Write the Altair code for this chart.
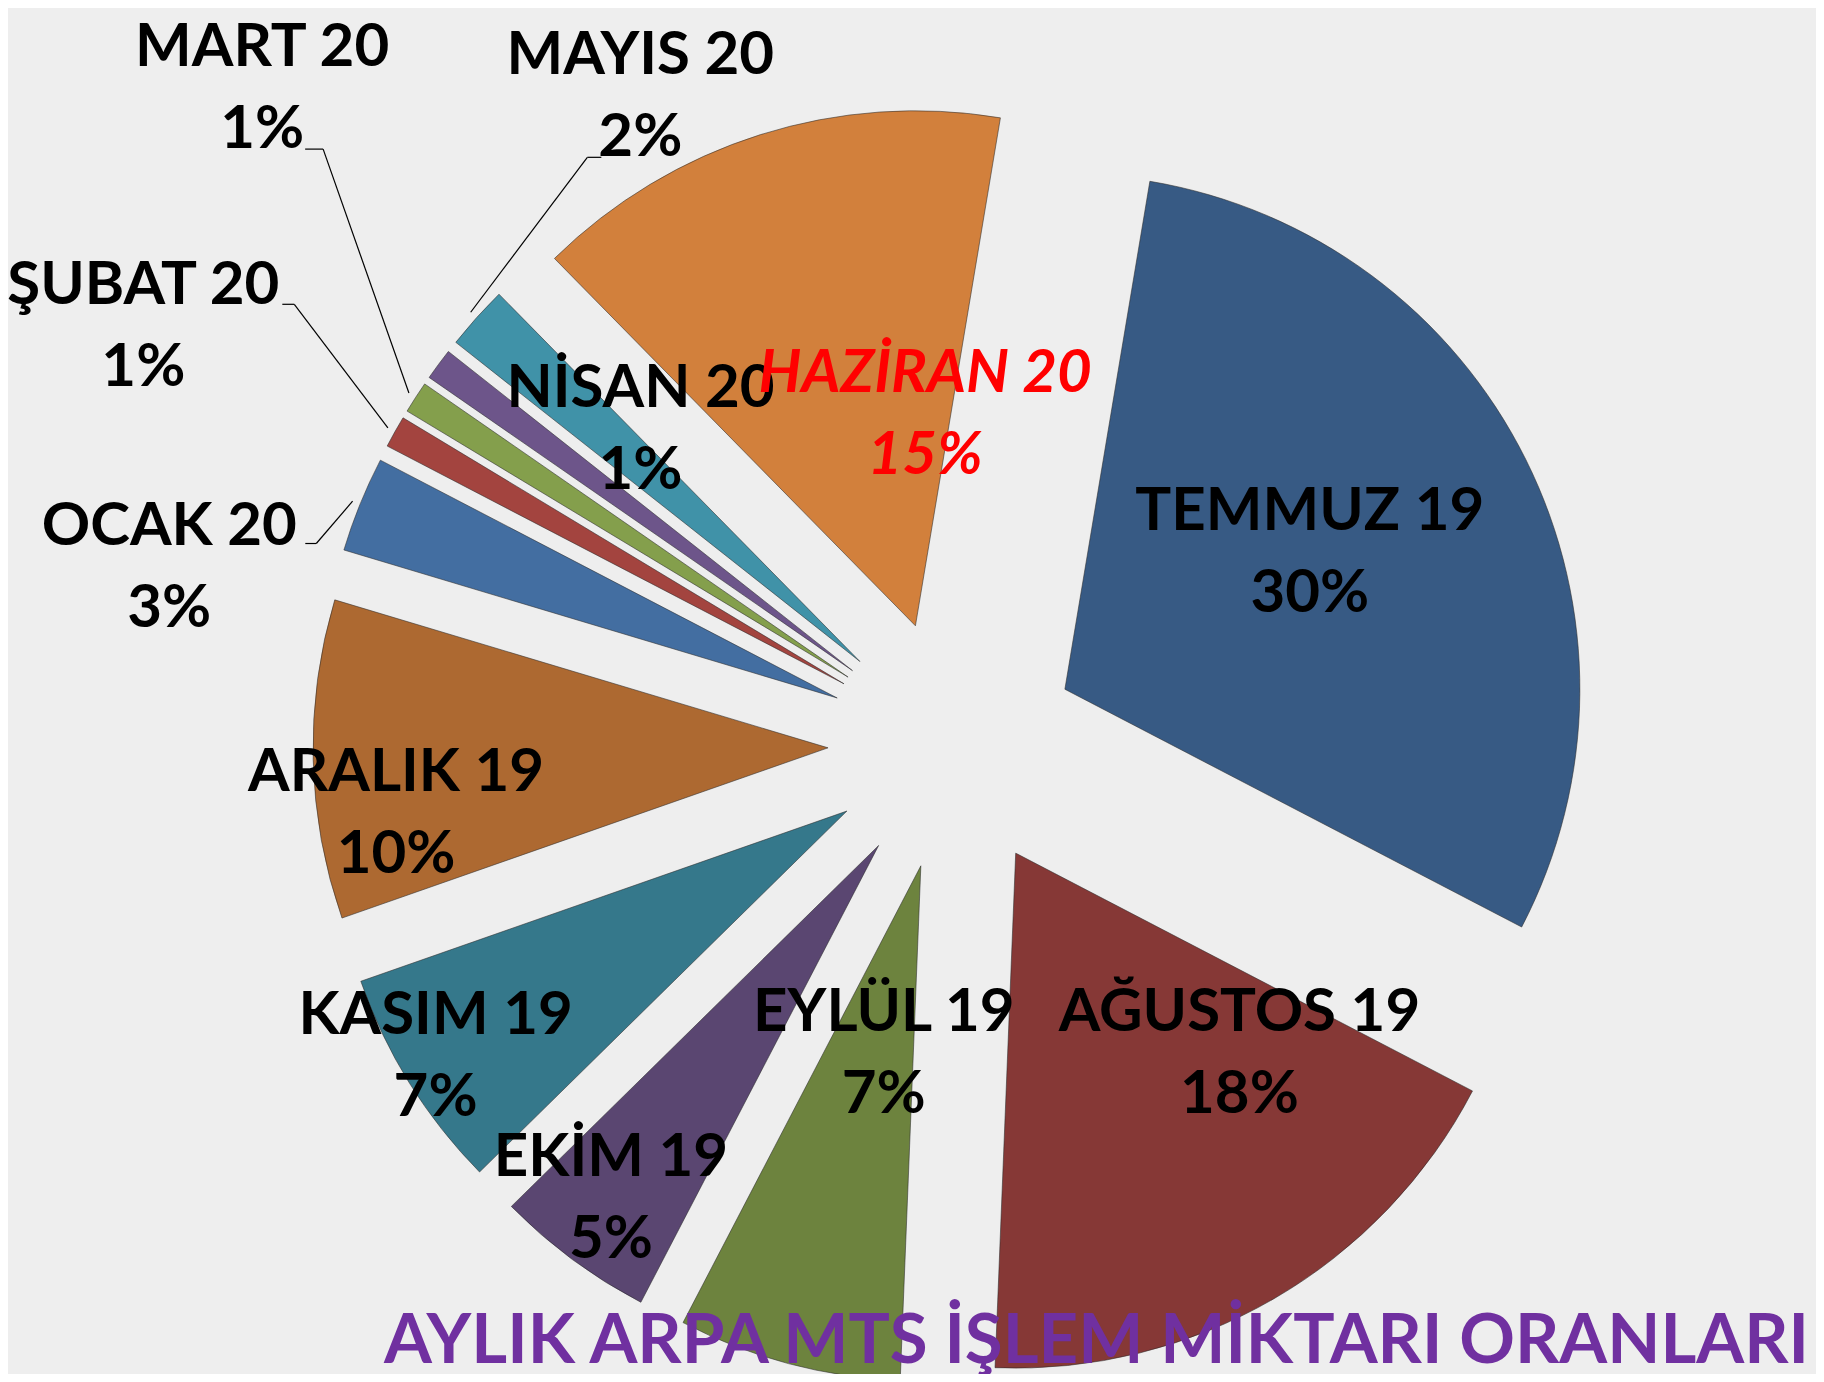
import math
import altair as alt
import pandas as pd

# ---- data ----
MONTHS = ["TEMMUZ 19", "AĞUSTOS 19", "EYLÜL 19", "EKİM 19", "KASIM 19", "ARALIK 19",
          "OCAK 20", "ŞUBAT 20", "MART 20", "NİSAN 20", "MAYIS 20", "HAZİRAN 20"]
VALUES = [30, 18, 7, 5, 7, 10, 3, 1, 1, 1, 2, 15]
TITLE = "AYLIK ARPA MTS İŞLEM MİKTARI ORANLARI"
HIGHLIGHT = "HAZİRAN 20"

# ---- style ----
COLORS = ["#375A84", "#863836", "#6D833E", "#5A4671", "#35788B", "#AD6931",
          "#436EA1", "#A3443F", "#849F4C", "#6D558A", "#4092A8", "#D2803C"]
LABEL_DANGLE = [-2, -12.9, -2.2, 0.6, 1, -5.6, -9.2, -1.9, 10.7, 8.9, 22.4, 12.7]
LABEL_R = [406, 420, 315, 567, 603, 561, 804, 912, 954, 445, 721, 333]
LEADER_DX = [None, None, None, None, None, None, 136, 139, 43, None, -39, None]
LEADER_DY = [None, None, None, None, None, None, -22, -21, 62, None, 62, None]
LEADER_EL = [None, None, None, None, None, None, 11, 12, 18, None, -14, None]

FONT = "Lato, sans-serif"
W, H = 1808, 1366
CX, CY = 945, 737
R = 515
EXPLODE = 125
START = math.radians(9.5)
TOTAL = sum(VALUES)

df = pd.DataFrame({
    "idx": list(range(len(MONTHS))),
    "month": MONTHS,
    "value": VALUES,
    "color": COLORS,
    "ldang": LABEL_DANGLE,
    "lr": LABEL_R,
    "ldx": LEADER_DX,
    "ldy": LEADER_DY,
    "lel": LEADER_EL,
})

base = (
    alt.Chart(df)
    .transform_joinaggregate(total="sum(value)")
    .transform_window(cum="sum(value)", sort=[alt.SortField("idx")], frame=[None, 0])
    .transform_calculate(
        c0="datum.cum - datum.value",
        mid=f"{START} + 2*PI*(datum.cum - datum.value/2)/datum.total",
    )
    .transform_calculate(
        ex=f"{CX} + {EXPLODE}*sin(datum.mid)",
        ey=f"{CY} - {EXPLODE}*cos(datum.mid)",
        la="datum.mid + datum.ldang*PI/180",
    )
    .transform_calculate(
        lx=f"{CX} + datum.lr*sin(datum.la)",
        ly=f"{CY} - datum.lr*cos(datum.la)",
        label="datum.month + '|' + format(datum.value/datum.total, '.0%')",
    )
)

arcs = base.mark_arc(radius=R, stroke="#2a2a2a", strokeWidth=1, strokeOpacity=0.55).encode(
    theta=alt.Theta("c0:Q", stack=None,
                    scale=alt.Scale(domain=[0, TOTAL], range=[START, START + 2 * math.pi],
                                    nice=False)),
    theta2="cum:Q",
    x=alt.X("ex:Q", scale=None),
    y=alt.Y("ey:Q", scale=None),
    color=alt.Color("color:N", scale=None),
)

lead = base.transform_filter("isValid(datum.ldx)").transform_calculate(
    sx="datum.lx + datum.ldx",
    sy="datum.ly + datum.ldy",
    kx="datum.lx + datum.ldx + datum.lel",
    tx=f"{CX} + {EXPLODE + R + 8}*sin(datum.mid)",
    ty=f"{CY} - {EXPLODE + R + 8}*cos(datum.mid)",
)
rule1 = lead.mark_rule(color="black", strokeWidth=1.2).encode(
    x=alt.X("sx:Q", scale=None), y=alt.Y("sy:Q", scale=None), x2="kx:Q", y2="sy:Q")
rule2 = lead.mark_rule(color="black", strokeWidth=1.2).encode(
    x=alt.X("kx:Q", scale=None), y=alt.Y("sy:Q", scale=None), x2="tx:Q", y2="ty:Q")

txt_kw = dict(font=FONT, fontSize=60, fontWeight="bold", lineBreak="|", lineHeight=82,
              align="center", baseline="middle", dy=-39)
labels = base.transform_filter(f"datum.month != '{HIGHLIGHT}'").mark_text(
    color="black", **txt_kw).encode(
    x=alt.X("lx:Q", scale=None), y=alt.Y("ly:Q", scale=None), text="label:N")
hl = base.transform_filter(f"datum.month == '{HIGHLIGHT}'").mark_text(
    color="#FF0000", fontStyle="italic", **txt_kw).encode(
    x=alt.X("lx:Q", scale=None), y=alt.Y("ly:Q", scale=None), text="label:N")

title = alt.Chart(pd.DataFrame({"t": [TITLE]})).mark_text(
    font=FONT, fontSize=69, fontWeight="bold", color="#7030A0",
    align="right", baseline="alphabetic").encode(
    x=alt.value(1801), y=alt.value(1355), text="t:N")

chart = alt.layer(arcs, rule1, rule2, labels, hl, title).properties(
    width=W, height=H,
    autosize=alt.AutoSizeParams(type="none"),
    padding=0,
    background="#EEEEEE",
).configure_view(stroke=None)

chart.save("out.html", embed_options={"renderer": "svg", "actions": False})
